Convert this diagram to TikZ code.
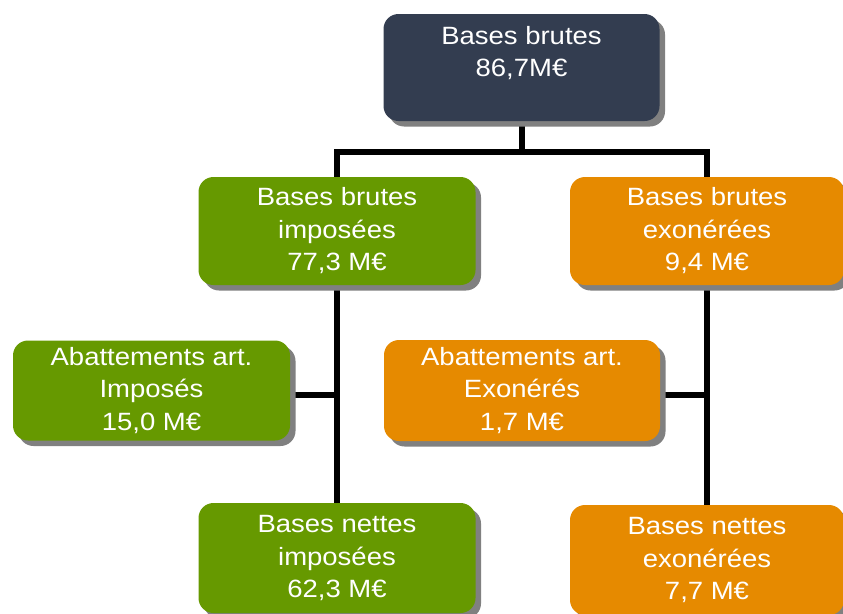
\documentclass[tikz,border=0pt]{standalone}
\usepackage{fontspec}
\setmainfont{Liberation Sans}[FakeStretch=1.1]
\usetikzlibrary{shadows,backgrounds,calc}
\definecolor{navy}{RGB}{51,61,80}
\definecolor{leaf}{RGB}{102,153,0}
\definecolor{amber}{RGB}{230,138,0}
\tikzset{
  card/.style={rounded corners=15pt, text=white, align=center, inner sep=0pt,
    font=\fontsize{25}{32.5}\selectfont,
    drop shadow={shadow xshift=5.5pt, shadow yshift=-5.5pt, fill=black!50, opacity=1}},
  navycard/.style={card, fill=navy},
  leafcard/.style={card, fill=leaf},
  ambercard/.style={card, fill=amber},
  conn/.style={line width=6pt, black}
}
\begin{document}
\begin{tikzpicture}[x=1pt,y=-1pt]
\useasboundingbox (0,0) rectangle (843,613);
\node[navycard, minimum width=276pt, minimum height=107pt] (top) at (521.5,67.5) {Bases brutes\\86,7M€\\\mbox{}};
\node[leafcard, minimum width=277pt, minimum height=108pt] (gbb) at (337,231) {Bases brutes\\imposées\\77,3 M€};
\node[ambercard, minimum width=274pt, minimum height=108pt] (obb) at (707,231) {Bases brutes\\exonérées\\9,4 M€};
\node[leafcard, minimum width=277pt, minimum height=100pt] (gab) at (151.5,390.5) {Abattements art.\\Imposés\\15,0 M€};
\node[ambercard, minimum width=276pt, minimum height=101pt] (oab) at (522,390.5) {Abattements art.\\Exonérés\\1,7 M€};
\node[leafcard, minimum width=277pt, minimum height=110pt] (gbn) at (337,558) {Bases nettes\\imposées\\62,3 M€};
\node[ambercard, minimum width=274pt, minimum height=110pt] (obn) at (707,560) {Bases nettes\\exonérées\\7,7 M€};
\begin{scope}[on background layer]
\draw[conn] (top.south) -- ++(0,30.5) coordinate (j1);
\draw[conn] (gbb.north) |- (j1) -| (obb.north);
\draw[conn] (gbb.south) -- (gbn.north);
\draw[conn] (obb.south) -- (obn.north);
\coordinate (ga) at ($(gab.east)+(0,4.5)$);
\coordinate (oa) at ($(oab.east)+(0,4)$);
\draw[conn] (ga) -- (ga -| gbb.south);
\draw[conn] (oa) -- (oa -| obb.south);
\end{scope}
\end{tikzpicture}
\end{document}
